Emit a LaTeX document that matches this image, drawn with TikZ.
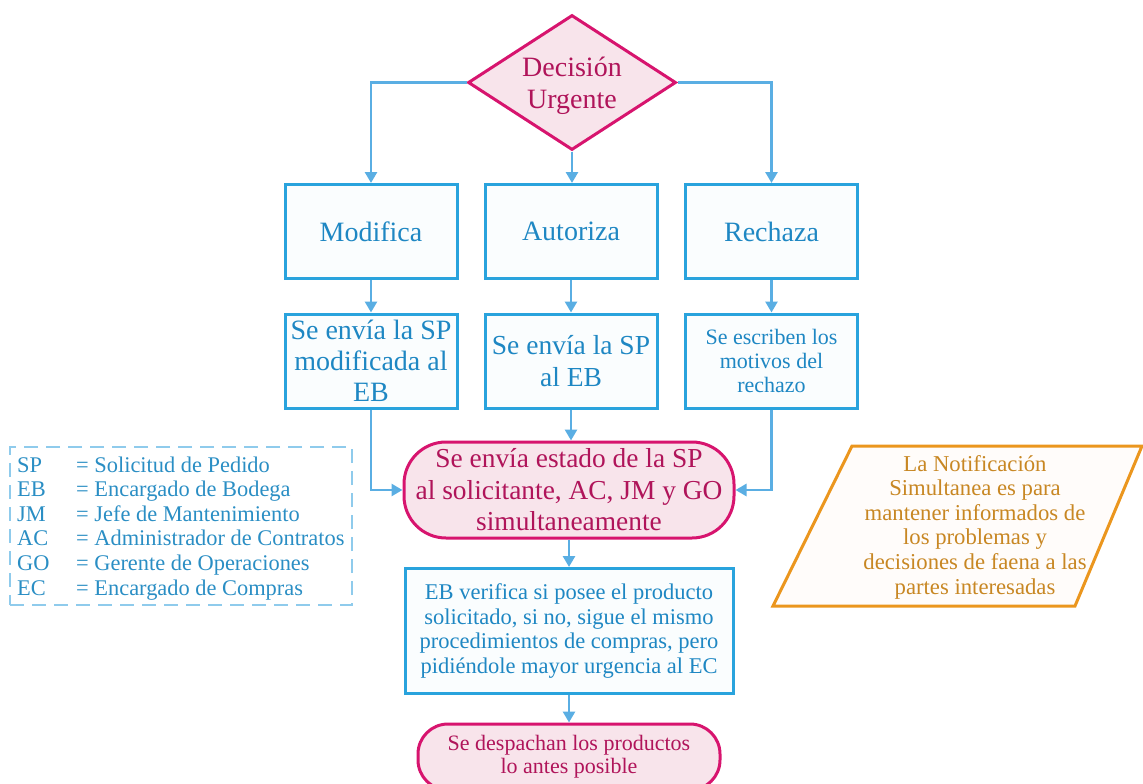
\documentclass[tikz,border=0pt]{standalone}
\usepackage{fontspec}
\setmainfont{Liberation Serif}
\usetikzlibrary{shapes.geometric,arrows.meta}
\definecolor{boxblue}{HTML}{29A3DD}
\definecolor{boxfill}{HTML}{FAFDFE}
\definecolor{txtblue}{HTML}{1E87C3}
\definecolor{legtxt}{HTML}{2A8EC4}
\definecolor{arrblue}{HTML}{5AAEE3}
\definecolor{dashblue}{HTML}{8FCBEC}
\definecolor{pinkline}{HTML}{D7146E}
\definecolor{pinkfill}{HTML}{F8E4EB}
\definecolor{pinktxt}{HTML}{B0145A}
\definecolor{orline}{HTML}{EB961E}
\definecolor{orfill}{HTML}{FFFCFA}
\definecolor{ortxt}{HTML}{C88723}
\begin{document}
\begin{tikzpicture}[x=1pt,y=-1pt,
  bluebox/.style={draw=boxblue, fill=boxfill, line width=3pt, text=txtblue,
    align=center, inner sep=2pt, minimum width=172pt, minimum height=94pt},
  pinkbox/.style={draw=pinkline, fill=pinkfill, line width=3pt, text=pinktxt,
    align=center, inner sep=2pt},
  flow/.style={draw=arrblue, line width=2.7pt, -{Triangle[width=12pt,length=11pt]}},
  big/.style={font=\fontsize{28}{32}\selectfont},
  small/.style={font=\fontsize{22.5}{24.5}\selectfont}]
\useasboundingbox (0,0) rectangle (1143,784);
\clip (0,0) rectangle (1143,784);

% decision
\node[diamond, pinkbox, minimum width=208pt, minimum height=135pt,
  inner sep=0pt, aspect=1.54] (dec) at (572,82.5) {};
\node[text=pinktxt, align=center, big, inner sep=0pt] (dectext) at (572,85.5) {Decisión\\Urgente};

% first row of outcomes
\node[bluebox, big] (mod) at (371,231.5) {Modifica};
\node[bluebox, big] (aut) at (571,231.5) {Autoriza};
\node[bluebox, big] (rec) at (771.5,231.5) {Rechaza};

% second row
\node[bluebox, font=\fontsize{28}{31}\selectfont] (sendmod) at (371,361) {Se envía la SP\\modificada al\\EB};
\node[bluebox, font=\fontsize{27.5}{32}\selectfont] (sendaut) at (571,361) {Se envía la SP\\al EB};
\node[bluebox, font=\fontsize{22}{24}\selectfont] (motivos) at (771.5,361) {Se escriben los\\motivos del\\rechazo};

% notification terminal
\node[pinkbox, font=\fontsize{27.4}{31.5}\selectfont, minimum width=330pt,
  minimum height=96pt, rounded corners=42pt] (estado) at (569,490)
  {Se envía estado de la SP\\al solicitante, AC, JM y GO\\simultaneamente};

% stock check
\node[bluebox, small, minimum width=328pt, minimum height=125pt] (verif) at (569,631)
  {EB verifica si posee el producto\\solicitado, si no, sigue el mismo\\procedimientos de compras, pero\\pidiéndole mayor urgencia al EC};

% dispatch terminal
\node[pinkbox, font=\fontsize{22}{23}\selectfont, minimum width=302pt,
  minimum height=66pt, rounded corners=30pt] (desp) at (569,757)
  {Se despachan los productos\\lo antes posible};

% connectors
\draw[flow] (dec.west) -| (mod.north);
\draw[flow] (dec.east) -| (rec.north);
\draw[flow] (dec.south) -- (dec.south |- aut.north);
\draw[flow] (mod.south) -- (sendmod.north);
\draw[flow] (aut.south) -- (sendaut.north);
\draw[flow] (rec.south) -- (motivos.north);
\draw[flow] (sendmod.south) |- (estado.west);
\draw[flow] (motivos.south) |- (estado.east);
\draw[flow] (sendaut.south) -- (sendaut.south |- estado.north);
\draw[flow] (estado.south) -- (estado.south |- verif.north);
\draw[flow] (verif.south) -- (desp.north);

% abbreviation legend
\node[draw=dashblue, line width=2.8pt, dash pattern=on 14pt off 8pt,
  minimum width=342pt, minimum height=158pt] (leg) at (181,526) {};
\node[anchor=base west, inner sep=0pt, text=legtxt,
  font=\fontsize{22.4}{24.6}\selectfont] (legtext) at (17,472)
  {\begin{tabular}[t]{@{}p{59pt}@{}l@{}}
   SP & = Solicitud de Pedido\\
   EB & = Encargado de Bodega\\
   JM & = Jefe de Mantenimiento\\
   AC & = Administrador de Contratos\\
   GO & = Gerente de Operaciones\\
   EC & = Encargado de Compras
   \end{tabular}};

% side note
\coordinate (pa) at (852,446);
\coordinate (pb) at (1142,446);
\coordinate (pc) at (1075,606);
\coordinate (pd) at (773,606);
\draw[draw=orline, fill=orfill, line width=3pt, line join=miter] (pa) -- (pb) -- (pc) -- (pd) -- cycle;
\node[text=ortxt, align=center, font=\fontsize{22.7}{24.6}\selectfont] (nota) at (975,527)
  {La Notificación\\Simultanea es para\\mantener informados de\\los problemas y\\decisiones de faena a las\\partes interesadas};
\end{tikzpicture}
\end{document}
